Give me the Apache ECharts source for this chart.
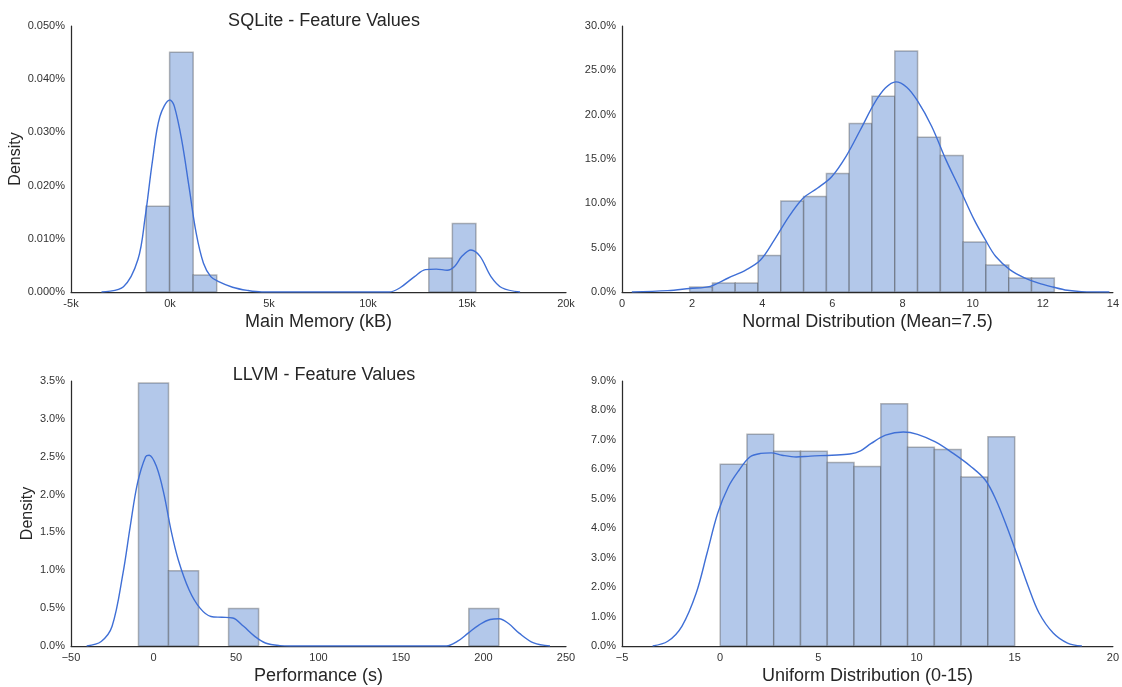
<!DOCTYPE html>
<html>
<head>
<meta charset="utf-8">
<script src="https://cdn.jsdelivr.net/npm/echarts@6/dist/echarts.min.js"></script>
<style>html,body{margin:0;padding:0;background:#fff}#c{width:1122px;height:687px}</style>
</head>
<body>
<div id="c"></div>
<script>
// ---------- DATA ----------
// Panel 1: SQLite - Main Memory (kB), density in %
const sqliteEdges = [-1210, -20, 1170, 2360, 3550, 4740, 5930, 7120, 8310, 9500, 10690, 11880, 13070, 14260, 15450];
const sqliteHeights = [0.01614, 0.04506, 0.00319, 0, 0, 0, 0, 0, 0, 0, 0, 0, 0.00638, 0.01289];
const sqliteKdeX = [-3460, -2350, -1620, -1250, -880, -510, 0, 220, 590, 960, 1320, 1690, 2060, 2430, 3160, 3900, 4630, 11070, 11620, 12350, 12900, 13450, 14000, 14370, 14740, 15200, 15660, 16210, 16760, 17680];
const sqliteKdeY = [0, 0.0010, 0.0061, 0.0142, 0.0248, 0.0330, 0.0361, 0.0349, 0.0286, 0.0198, 0.0111, 0.0054, 0.0029, 0.0020, 0.0009, 0.0003, 0, 0, 0.0008, 0.0029, 0.0042, 0.0043, 0.0041, 0.0048, 0.0067, 0.0079, 0.0067, 0.0029, 0.0008, 0];

// Panel 2: Normal distribution (mean 7.5)
const normalEdges = [1.93, 2.58, 3.23, 3.88, 4.53, 5.18, 5.83, 6.48, 7.13, 7.78, 8.43, 9.08, 9.73, 10.38, 11.03, 11.68, 12.33];
const normalHeights = [0.56, 1.01, 1.01, 4.13, 10.25, 10.78, 13.37, 19.0, 22.08, 27.19, 17.46, 15.4, 5.63, 3.04, 1.58, 1.58];
const normalKdeX = [0.28, 1.3, 1.93, 2.52, 3.03, 3.54, 3.95, 4.35, 4.76, 5.17, 5.57, 5.98, 6.39, 6.8, 7.2, 7.51, 7.81, 8.12, 8.42, 8.83, 9.24, 9.65, 10.05, 10.36, 10.66, 11.07, 11.48, 11.88, 12.29, 12.7, 13.1, 13.9];
const normalKdeY = [0, 0.15, 0.4, 0.64, 1.58, 2.5, 3.6, 5.9, 8.5, 10.6, 11.7, 13.0, 15.3, 18.3, 21.3, 23.0, 23.7, 23.1, 21.6, 18.7, 14.9, 11.5, 8.1, 5.9, 4.0, 2.5, 1.6, 1.0, 0.56, 0.19, 0.04, 0];

// Panel 3: LLVM - Performance (s)
const llvmEdges = [-9.1, 9.1, 27.3, 45.5, 63.7, 81.9, 100.1, 118.3, 136.5, 154.7, 172.9, 191.1, 209.3];
const llvmHeights = [3.474, 0.993, 0, 0.496, 0, 0, 0, 0, 0, 0, 0, 0.496];
const llvmKdeX = [-40.5, -31.7, -25.1, -18.5, -14.1, -9.7, -4.8, -2.6, 1.8, 6.2, 10.6, 15.0, 21.6, 28.2, 34.8, 41.4, 48.0, 54.6, 61.2, 67.8, 76.6, 83.2, 177.5, 184.1, 190.7, 197.4, 204.0, 209.5, 215.0, 221.6, 230.4, 240.3];
const llvmKdeY = [0, 0.06, 0.26, 0.96, 1.58, 2.15, 2.50, 2.52, 2.37, 2.02, 1.53, 1.14, 0.74, 0.50, 0.39, 0.38, 0.37, 0.26, 0.13, 0.04, 0.005, 0, 0, 0.06, 0.17, 0.28, 0.35, 0.36, 0.30, 0.17, 0.04, 0];

// Panel 4: Uniform distribution (0-15)
const uniformEdges = [0, 1.364, 2.727, 4.091, 5.455, 6.818, 8.182, 9.545, 10.909, 12.273, 13.636, 15];
const uniformHeights = [6.17, 7.19, 6.61, 6.61, 6.23, 6.10, 8.23, 6.75, 6.67, 5.74, 7.11];
const uniformKdeX = [-3.44, -2.67, -1.95, -1.22, -0.67, -0.13, 0.42, 0.96, 1.51, 2.05, 2.6, 3.15, 3.87, 4.6, 5.69, 6.6, 7.15, 7.69, 8.42, 9.33, 10.05, 10.96, 11.87, 12.78, 13.51, 14.05, 14.6, 15.15, 15.69, 16.24, 16.96, 17.69, 18.42];
const uniformKdeY = [0, 0.16, 0.67, 1.8, 3.15, 4.5, 5.41, 5.97, 6.42, 6.54, 6.56, 6.48, 6.42, 6.45, 6.48, 6.52, 6.63, 6.88, 7.16, 7.27, 7.19, 6.93, 6.54, 6.09, 5.63, 4.96, 4.05, 3.04, 2.02, 1.12, 0.44, 0.1, 0];

const titles = ['SQLite - Feature Values', '', 'LLVM - Feature Values', ''];
const xNames = ['Main Memory (kB)', 'Normal Distribution (Mean=7.5)', 'Performance (s)', 'Uniform Distribution (0-15)'];
const yNames = ['Density', '', 'Density', ''];

// ---------- CHART ----------
const FONT = '"Liberation Sans", Arial, sans-serif';
const lineColor = '#3f6fd6';
const barFill = '#b3c8ea';
const barStroke = 'rgba(40,40,40,0.32)';
const axisColor = '#2b2b2b';

const grids = [
  {left: 71, top: 26, width: 495, height: 266},
  {left: 622, top: 26, width: 493, height: 266},
  {left: 71, top: 381, width: 495, height: 265},
  {left: 622, top: 381, width: 493, height: 265}
];

const xCfg = [
  {min: -5000, max: 20000, interval: 5000, fmt: v => (v / 1000) + 'k'},
  {min: 0, max: 14, interval: 2, fmt: v => String(v)},
  {min: -50, max: 250, interval: 50, fmt: v => (v < 0 ? '\u2212' + Math.abs(v) : String(v))},
  {min: -5, max: 20, interval: 5, fmt: v => (v < 0 ? '\u2212' + Math.abs(v) : String(v))}
];
const yCfg = [
  {min: 0, max: 0.05, interval: 0.01, dec: 3, gap: 44},
  {min: 0, max: 30, interval: 5, dec: 1, gap: 40},
  {min: 0, max: 3.5, interval: 0.5, dec: 1, gap: 31},
  {min: 0, max: 9, interval: 1, dec: 1, gap: 33}
];

const hist = [
  [sqliteEdges, sqliteHeights],
  [normalEdges, normalHeights],
  [llvmEdges, llvmHeights],
  [uniformEdges, uniformHeights]
];
const kde = [
  [sqliteKdeX, sqliteKdeY],
  [normalKdeX, normalKdeY],
  [llvmKdeX, llvmKdeY],
  [uniformKdeX, uniformKdeY]
];

const xAxis = xCfg.map((c, i) => ({
  type: 'value', gridIndex: i, min: c.min, max: c.max, interval: c.interval,
  name: xNames[i], nameLocation: 'middle', nameGap: 21,
  nameTextStyle: {fontFamily: FONT, fontSize: 18, color: '#262626'},
  axisLine: {show: true, onZero: false, lineStyle: {color: axisColor, width: 1.25}},
  axisTick: {show: false},
  splitLine: {show: false},
  axisLabel: {fontFamily: FONT, fontSize: 11, color: '#333', margin: 6, formatter: c.fmt, showMinLabel: true, showMaxLabel: true}
}));
const yAxis = yCfg.map((c, i) => ({
  type: 'value', gridIndex: i, min: c.min, max: c.max, interval: c.interval,
  name: yNames[i], nameLocation: 'middle', nameGap: c.gap, nameRotate: 90,
  nameTextStyle: {fontFamily: FONT, fontSize: 16, color: '#262626'},
  axisLine: {show: true, onZero: false, lineStyle: {color: axisColor, width: 1.25}},
  axisTick: {show: false},
  splitLine: {show: false},
  axisLabel: {fontFamily: FONT, fontSize: 11, color: '#333', margin: 6, formatter: v => v.toFixed(c.dec) + '%'}
}));

const series = [];
hist.forEach(([edges, heights], i) => {
  const data = heights.map((h, k) => [edges[k], edges[k + 1], h]);
  series.push({
    type: 'custom', xAxisIndex: i, yAxisIndex: i, z: 2,
    data: data,
    encode: {x: [0, 1], y: 2},
    renderItem: (params, api) => {
      const h = api.value(2);
      if (!h) return null;
      const p0 = api.coord([api.value(0), h]);
      const p1 = api.coord([api.value(1), 0]);
      return {
        type: 'rect',
        shape: {x: p0[0], y: p0[1], width: p1[0] - p0[0], height: p1[1] - p0[1]},
        style: {fill: barFill, stroke: barStroke, lineWidth: 1.5}
      };
    }
  });
});
kde.forEach(([xs, ys], i) => {
  series.push({
    type: 'line', xAxisIndex: i, yAxisIndex: i, z: 3,
    data: xs.map((x, k) => [x, ys[k]]),
    smooth: 0.35, showSymbol: false, symbol: 'none',
    lineStyle: {color: lineColor, width: 1.4}
  });
});

const title = [
  {text: titles[0], left: 319, top: 7, textAlign: 'center', textStyle: {fontFamily: FONT, fontSize: 18, fontWeight: 'normal', color: '#262626'}},
  {text: titles[2], left: 319, top: 361, textAlign: 'center', textStyle: {fontFamily: FONT, fontSize: 18, fontWeight: 'normal', color: '#262626'}}
];

const chart = echarts.init(document.getElementById('c'), null, {renderer: 'canvas'});
chart.setOption({
  animation: false,
  backgroundColor: '#fff',
  title: title,
  grid: grids,
  xAxis: xAxis,
  yAxis: yAxis,
  series: series
});
</script>
</body>
</html>
